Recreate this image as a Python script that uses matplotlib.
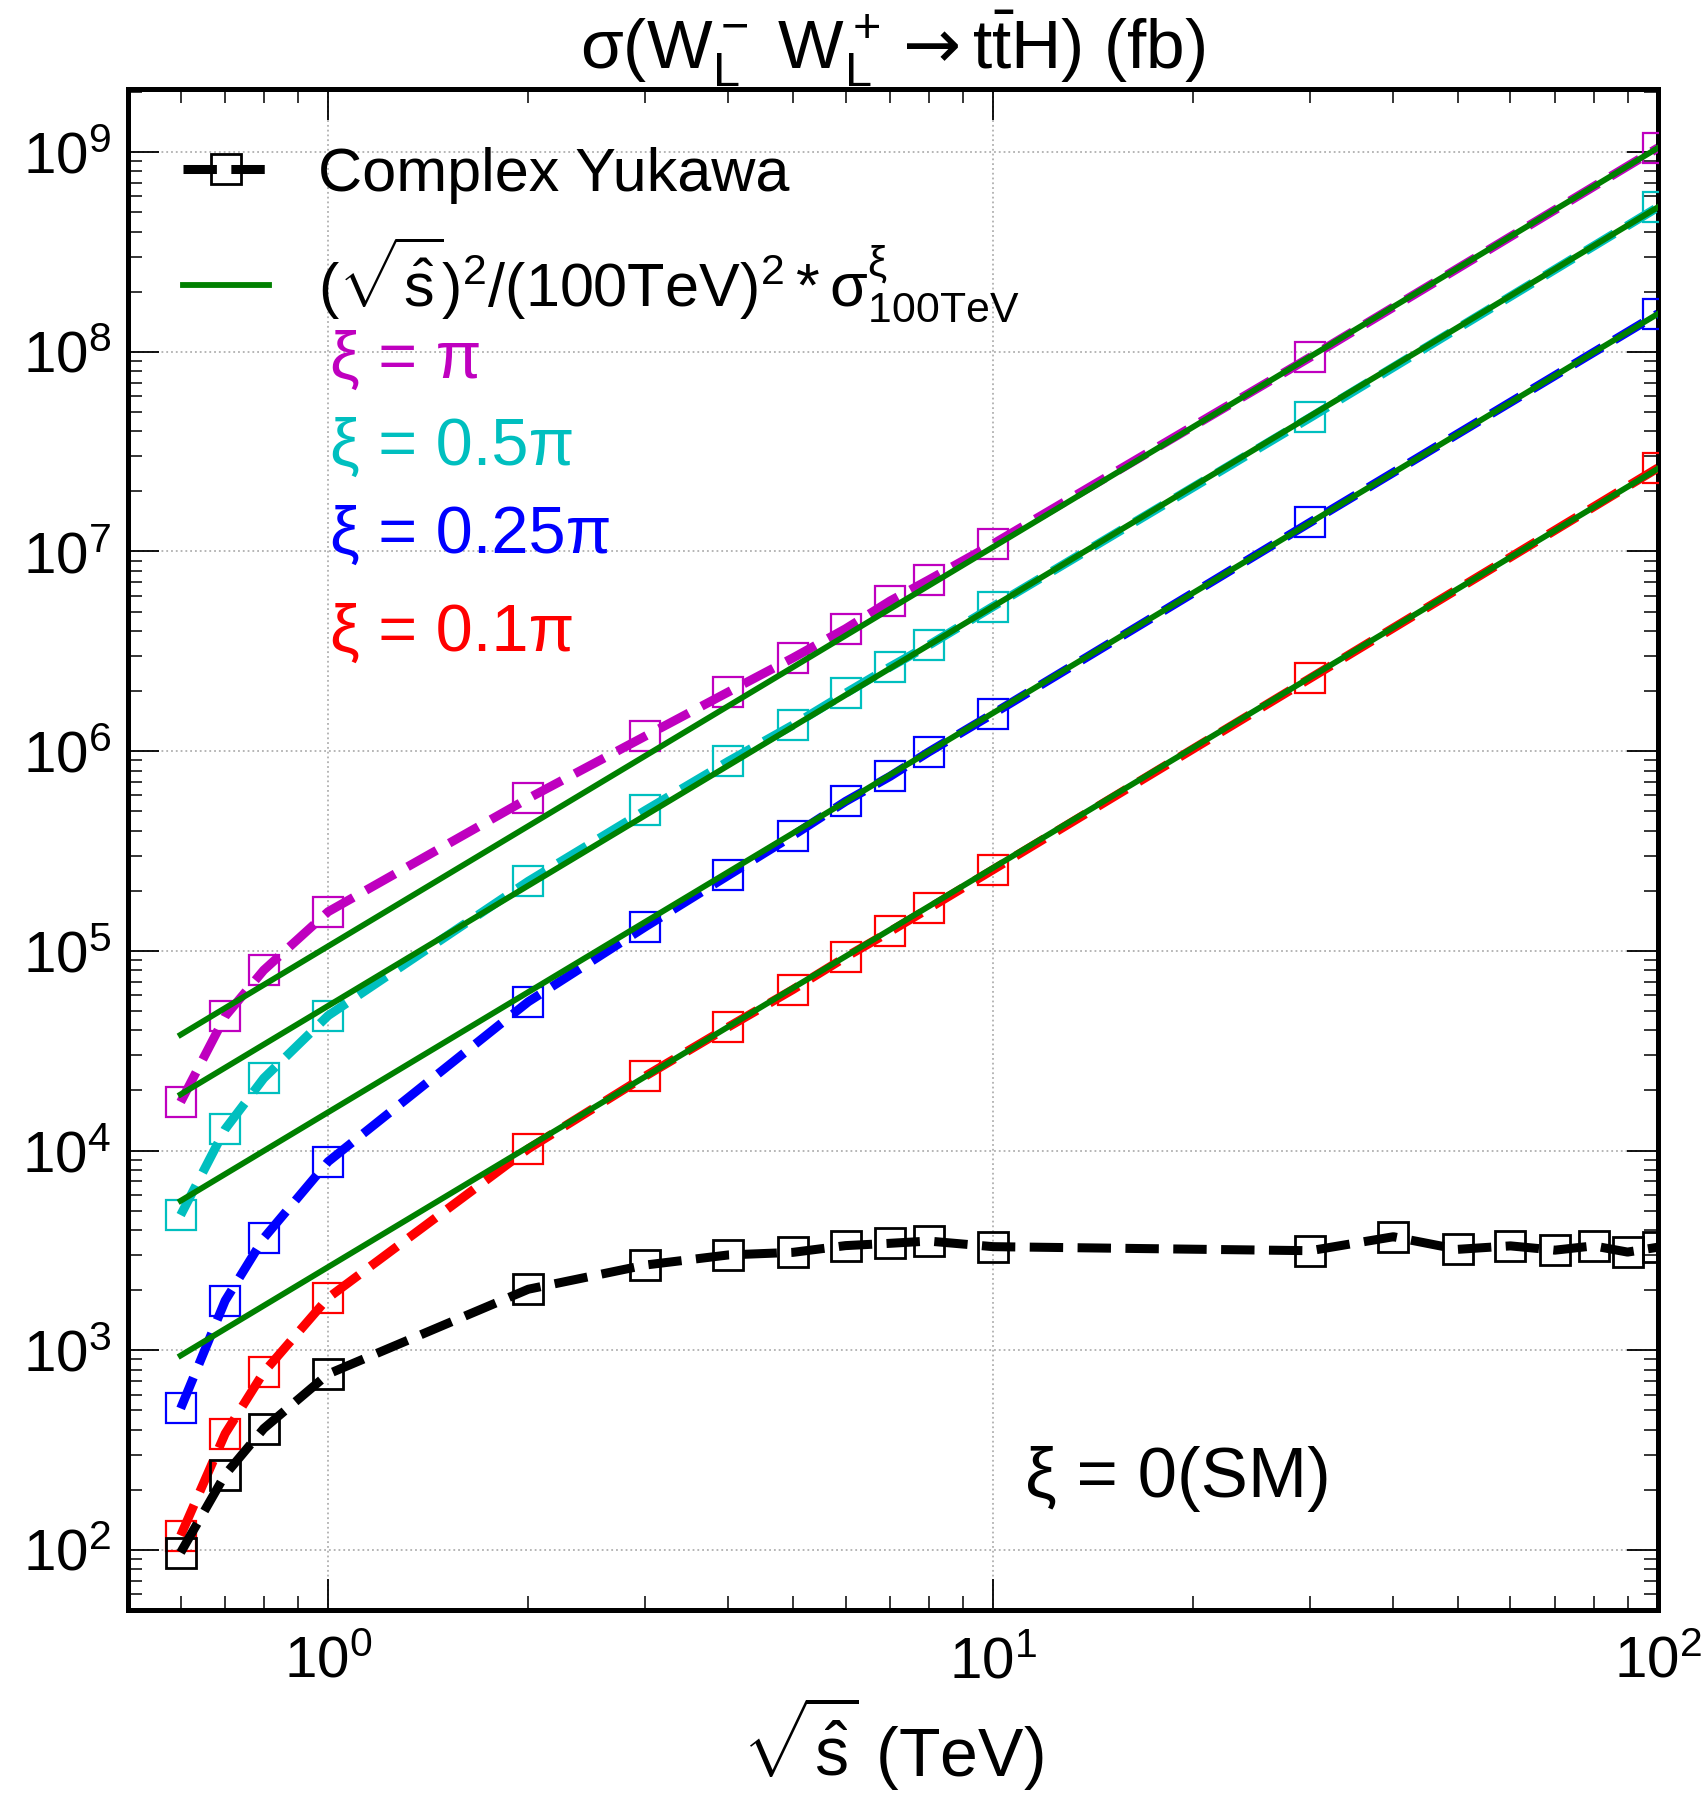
import matplotlib
matplotlib.use("Agg")
import matplotlib.pyplot as plt

plt.rcParams["font.family"] = ["Liberation Sans", "DejaVu Sans"]
plt.rcParams["mathtext.fontset"] = "custom"
plt.rcParams["mathtext.rm"] = "Liberation Sans"
plt.rcParams["mathtext.it"] = "Liberation Sans"
plt.rcParams["mathtext.bf"] = "Liberation Sans:bold"
plt.rcParams["mathtext.sf"] = "DejaVu Sans"
plt.rcParams["mathtext.default"] = "regular"

# sqrt(s) in TeV
x_xi = [0.6, 0.7, 0.8, 1, 2, 3, 4, 5, 6, 7, 8, 10, 30, 100]
x_sm = [0.6, 0.7, 0.8, 1, 2, 3, 4, 5, 6, 7, 8, 10, 30, 40, 50, 60, 70, 80, 90, 100]

# cross sections (fb)
sig_pi = [1.75e4, 4.7e4, 8.0e4, 1.57e5, 5.8e5, 1.19e6, 1.98e6, 2.93e6, 4.1e6,
          5.65e6, 7.2e6, 1.09e7, 9.4e7, 1.05e9]
sig_05pi = [4.75e3, 1.28e4, 2.3e4, 4.74e4, 2.23e5, 5.05e5, 8.9e5, 1.35e6, 1.95e6,
            2.64e6, 3.39e6, 5.3e6, 4.69e7, 5.3e8]
sig_025pi = [511, 1.77e3, 3.64e3, 8.8e3, 5.56e4, 1.32e5, 2.39e5, 3.78e5, 5.6e5,
             7.48e5, 9.9e5, 1.54e6, 1.40e7, 1.55e8]
sig_01pi = [118, 382, 775, 1.83e3, 1.02e4, 2.36e4, 4.16e4, 6.4e4, 9.3e4,
            1.25e5, 1.63e5, 2.55e5, 2.32e6, 2.62e7]
sig_sm = [97, 238, 405, 760, 2.02e3, 2.67e3, 3.0e3, 3.09e3, 3.34e3, 3.43e3,
          3.52e3, 3.3e3, 3.15e3, 3.7e3, 3.2e3, 3.33e3, 3.17e3, 3.33e3, 3.1e3, 3.28e3]

# s/(100 TeV)^2 scaling lines, end points
x_scale = [0.6, 100]
scale_pi = [3.8e4, 1.05e9]
scale_05pi = [1.91e4, 5.3e8]
scale_025pi = [5.6e3, 1.55e8]
scale_01pi = [940, 2.6e7]

series = [
    (sig_pi, scale_pi, "m", r"ξ = π"),
    (sig_05pi, scale_05pi, "c", r"ξ = 0.5π"),
    (sig_025pi, scale_025pi, "b", r"ξ = 0.25π"),
    (sig_01pi, scale_01pi, "r", r"ξ = 0.1π"),
]

fig = plt.figure(figsize=(17.05, 17.95), dpi=100)
ax = fig.add_axes([128 / 1705, 1 - 1610 / 1795, 1530 / 1705, 1521 / 1795])

for sig, sc, col, lab in series:
    ax.plot(x_xi, sig, ls="--", color=col, lw=6.5, marker="s", ms=22,
            mfc="none", mec=col, mew=1.6, zorder=3)

line_sm, = ax.plot(x_sm, sig_sm, ls="--", color="k", lw=6.5, marker="s", ms=22,
                   mfc="none", mec="k", mew=2.0, zorder=3)

line_sc = None
for sig, sc, col, lab in series:
    line_sc, = ax.plot(x_scale, sc, color="g", lw=4.2, zorder=4)

ax.set_xscale("log")
ax.set_yscale("log")
ax.set_xlim(0.5, 100)
ax.set_ylim(50, 2.07e9)

ax.grid(True, which="major", ls=":", color="#b0b0b0", lw=1.3)
ax.tick_params(which="both", direction="in", top=True, right=True)
ax.tick_params(which="major", length=22, width=1.3, labelsize=42, pad=12)
ax.tick_params(which="minor", length=10, width=1.1)
ax.tick_params(axis="x", which="major", pad=18)
for sp in ax.spines.values():
    sp.set_linewidth(3.6)

ax.set_title(r"$\sigma(W_L^-\ W_L^+ \mathsf{\rightarrow} t\bar{t}H)$ (fb)", fontsize=50, pad=8)
ax.set_xlabel(r"$\sqrt{\hat{s}}$ (TeV)", fontsize=49, labelpad=4)

leg = ax.legend([line_sm, line_sc],
                ["Complex Yukawa",
                 r"$(\sqrt{\hat{s}})^2/(100\mathrm{TeV})^2 * \sigma^{\xi}_{100\mathrm{TeV}}$"],
                loc="upper left", bbox_to_anchor=(0.036, 0.962), frameon=False,
                fontsize=44, handlelength=1.4, handletextpad=0.8, labelspacing=0.5,
                borderpad=0, borderaxespad=0, numpoints=1)

ypos = [0.821, 0.764, 0.706, 0.642]
for (sig, sc, col, lab), yy in zip(series, ypos):
    ax.text(0.132, yy, lab, color=col, fontsize=48, transform=ax.transAxes,
            va="center", ha="left")

ax.text(0.586, 0.086, "ξ = 0(SM)", fontsize=51, transform=ax.transAxes,
        va="center", ha="left")

fig.savefig("out.png", dpi=100)
